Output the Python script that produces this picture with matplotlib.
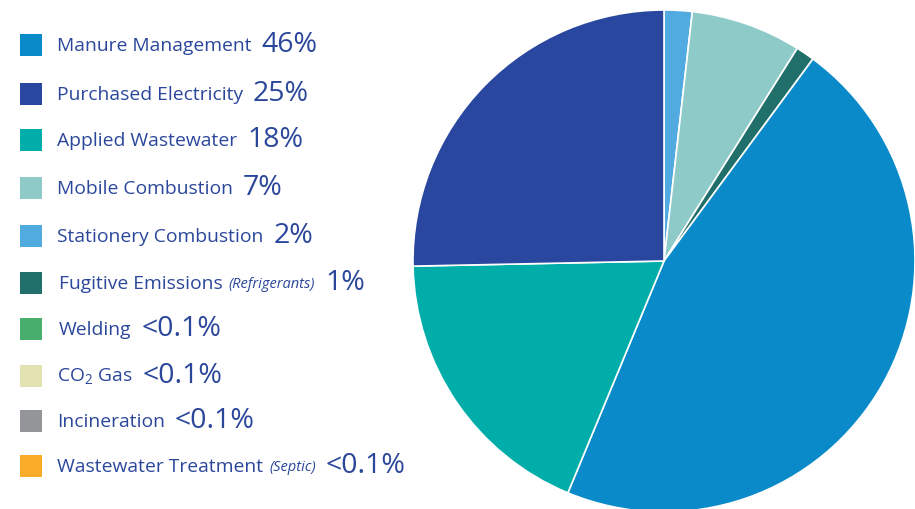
import matplotlib.pyplot as plt
from matplotlib.patches import Rectangle

plt.rcParams['font.family'] = ['Open Sans', 'DejaVu Sans']
plt.rcParams['mathtext.fontset'] = 'custom'
plt.rcParams['mathtext.rm'] = 'Open Sans'

# legend entries (top to bottom)
labels = ["Manure Management", "Purchased Electricity", "Applied Wastewater",
          "Mobile Combustion", "Stationery Combustion", "Fugitive Emissions",
          "Welding", "CO$_2$ Gas", "Incineration", "Wastewater Treatment"]
notes = ["", "", "", "", "", "(Refrigerants)", "", "", "", "(Septic)"]
pct_labels = ["46%", "25%", "18%", "7%", "2%", "1%", "<0.1%", "<0.1%", "<0.1%", "<0.1%"]
colors = ["#0b8ac9", "#2a47a0", "#00ada9", "#8ecbc8", "#52abe0", "#216f6a",
          "#47ae6e", "#e3e2b3", "#939598", "#f9ac27"]

# pie wedge shares, clockwise from 12 o'clock
pie_order = ["Stationery Combustion", "Mobile Combustion", "Fugitive Emissions",
             "Manure Management", "Applied Wastewater", "Purchased Electricity"]
pie_values = [1.8, 7.1, 1.2, 46.1, 18.4, 25.3]

text_color = "#2b479b"

fig = plt.figure(figsize=(9.15, 5.10), dpi=100)
W, H = 915, 510

# pie
cx, cy, r = 664, 262, 251
ax = fig.add_axes([(cx - r) / W, (H - cy - r) / H, 2 * r / W, 2 * r / H])
pie_colors = [colors[labels.index(n)] for n in pie_order]
ax.pie(pie_values, colors=pie_colors, startangle=90, counterclock=False,
       radius=1, wedgeprops=dict(edgecolor="white", linewidth=1.2))
ax.set_xlim(-1, 1)
ax.set_ylim(-1, 1)
ax.set_aspect("equal")
ax.axis("off")

# legend
row_y = [46, 95, 141, 189, 237, 284, 330, 377, 422, 467]
fig.canvas.draw()
renderer = fig.canvas.get_renderer()
for i, lab in enumerate(labels):
    y = row_y[i]
    fig.patches.append(Rectangle((20 / W, (H - y - 11) / H), 22 / W, 22 / H,
                                 transform=fig.transFigure, facecolor=colors[i],
                                 edgecolor="none"))
    x0 = 57 if i not in (5, 6) else 59
    t = fig.text(x0 / W, (H - y) / H, lab, fontsize=13.9, color=text_color,
                 va="center", ha="left")
    x_end = t.get_window_extent(renderer).x1
    if notes[i]:
        t2 = fig.text((x_end + 6) / W, (H - y - 1) / H, notes[i], fontsize=10.5,
                      style="italic", color=text_color, va="center", ha="left")
        x_end = t2.get_window_extent(renderer).x1
    fig.text((x_end + 10) / W, (H - y + 1) / H, pct_labels[i], fontsize=20.5,
             color=text_color, va="center", ha="left")

fig.savefig("out.png", dpi=100)
